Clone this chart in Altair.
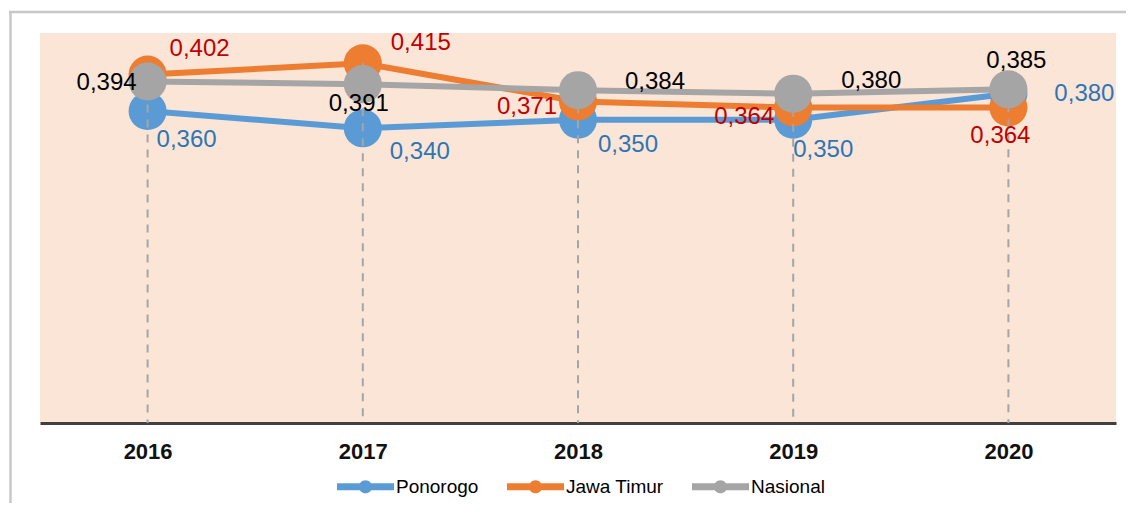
import altair as alt
import pandas as pd

# ---- data ----
years = ["2016", "2017", "2018", "2019", "2020"]
series_names = ["Ponorogo", "Jawa Timur", "Nasional"]
ponorogo = [0.360, 0.340, 0.350, 0.350, 0.380]
jawa_timur = [0.402, 0.415, 0.371, 0.364, 0.364]
nasional = [0.394, 0.391, 0.384, 0.380, 0.385]

# ---- styles ----
line_colors = ["#5B9BD5", "#ED7D31", "#A5A5A5"]
label_colors = ["#2E75B6", "#C00000", "#000000"]
# label offsets (dx, dy) in pixels, per series per year
label_offsets = [
    [(39, 29), (57, 24), (50, 25), (30, 30), (76, 0)],
    [(52, -26), (58, -20), (-51, 6), (-49, 9), (-8, 28)],
    [(-41, 1), (-4, 20), (77, -8), (78, -13), (8, -28)],
]

values = [ponorogo, jawa_timur, nasional]
rows = []
for name, vals in zip(series_names, values):
    for yr, v in zip(years, vals):
        rows.append({"year": yr, "series": name, "value": v,
                     "label": f"{v:.3f}".replace(".", ",")})
df = pd.DataFrame(rows)

W, H = 1076, 390
yscale = alt.Scale(domain=[0, 0.45], nice=False, zero=True)
X = alt.X("year:N", sort=years, scale=alt.Scale(type="point", padding=0.5),
          axis=alt.Axis(title=None, labelAngle=0, ticks=False, tickSize=0,
                        domainColor="#404040", domainWidth=3, grid=False,
                        labelFont="Liberation Sans", labelFontSize=22,
                        labelFontWeight="bold", labelColor="#111111",
                        labelPadding=18))
Y = alt.Y("value:Q", scale=yscale, axis=None)

legend_path = ("M-1,-0.12L1,-0.12L1,0.12L-1,0.12Z "
               "M-0.23,0A0.23,0.23,0,1,1,0.23,0A0.23,0.23,0,1,1,-0.23,0Z")
legend = alt.Legend(title=None, orient="none", legendX=297, legendY=425,
                    direction="horizontal", symbolType=legend_path,
                    symbolSize=3249, symbolStrokeWidth=0, symbolOpacity=1,
                    labelFont="Liberation Sans", labelFontSize=19,
                    labelColor="#000000", labelOffset=2, columnPadding=28,
                    padding=0)
color = alt.Color("series:N", scale=alt.Scale(domain=series_names, range=line_colors),
                  legend=legend)

base = alt.Chart(df)
layers = []

# outer frame (decoration)
frame_src = alt.Chart(pd.DataFrame({"a": [0]}))
layers.append(frame_src.mark_rule(color="#C8C8C8", strokeWidth=2.5).encode(
    x=alt.value(-29.5), y=alt.value(-22), y2=alt.value(600)))
layers.append(frame_src.mark_rule(color="#C8C8C8", strokeWidth=2.5).encode(
    x=alt.value(-31), x2=alt.value(1100), y=alt.value(-21)))

for i, name in enumerate(series_names):
    sub = base.transform_filter(alt.datum.series == name)
    layers.append(sub.mark_line(strokeWidth=6, color=line_colors[i]).encode(x=X, y=Y))
    layers.append(sub.mark_circle(size=1450, opacity=1).encode(x=X, y=Y, color=color))

# drop lines
layers.append(base.mark_rule(color="#A5A5A5", strokeWidth=2, strokeDash=[8, 7]).encode(
    x=X, y=alt.Y("max(value):Q", scale=yscale, axis=None), y2=alt.datum(0)))

# data labels
for i, name in enumerate(series_names):
    for j, yr in enumerate(years):
        dx, dy = label_offsets[i][j]
        sub = base.transform_filter((alt.datum.series == name) & (alt.datum.year == yr))
        layers.append(sub.mark_text(dx=dx, dy=dy, font="Liberation Sans", fontSize=24,
                                    color=label_colors[i], align="center",
                                    baseline="middle").encode(x=X, y=Y, text="label:N"))

chart = alt.layer(*layers).properties(
    width=W, height=H,
    background="white",
    autosize=alt.AutoSizeParams(type="none"),
    padding={"left": 32, "top": 25, "right": 10, "bottom": 80},
).configure_view(fill="#FBE5D6", stroke=None)

chart.save("out.html", embed_options={"renderer": "svg", "actions": False})
